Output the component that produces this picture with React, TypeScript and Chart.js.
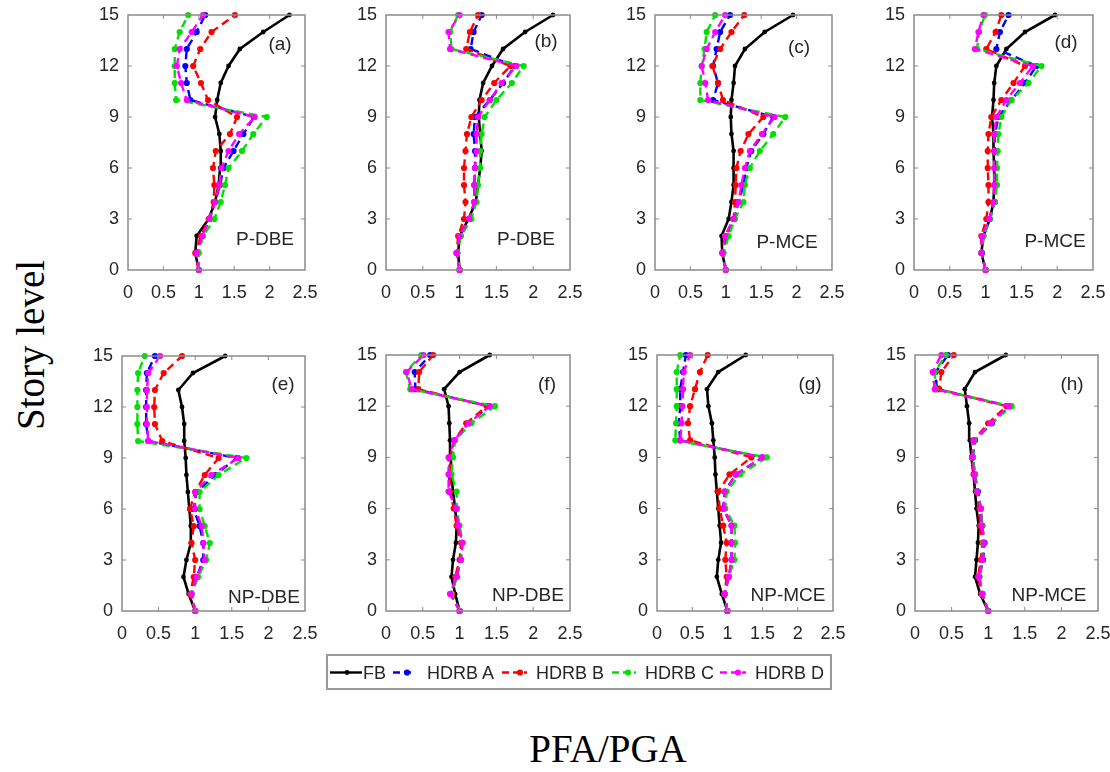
import React, { useEffect, useRef } from "react";
import { Chart, registerables } from "chart.js";
Chart.register(...registerables);

// ---------- data ----------
const storyLevels = [0, 1, 2, 3, 4, 5, 6, 7, 8, 9, 10, 11, 12, 13, 14, 15];
const xTickValues = [0, 0.5, 1, 1.5, 2, 2.5];
const yTickValues = [0, 3, 6, 9, 12, 15];
const seriesNames = ["FB", "HDRB A", "HDRB B", "HDRB C", "HDRB D"];
const panelTags = ["(a)", "(b)", "(c)", "(d)", "(e)", "(f)", "(g)", "(h)"];
const caseLabels = ["P-DBE", "P-DBE", "P-MCE", "P-MCE", "NP-DBE", "NP-DBE", "NP-MCE", "NP-MCE"];
const xAxisTitle = "PFA/PGA";
const yAxisTitle = "Story level";

// values listed from story level 0 to 15
const a_FB = [1.0, 0.95, 0.97, 1.14, 1.23, 1.28, 1.3, 1.31, 1.29, 1.23, 1.26, 1.31, 1.42, 1.58, 1.91, 2.28];
const a_A = [1.0, 0.97, 1.05, 1.15, 1.23, 1.3, 1.35, 1.49, 1.63, 1.78, 0.88, 0.83, 0.81, 0.83, 0.97, 1.09];
const a_B = [1.0, 0.95, 1.03, 1.14, 1.21, 1.22, 1.2, 1.24, 1.44, 1.54, 1.13, 1.03, 0.92, 1.02, 1.18, 1.51];
const a_C = [1.0, 1.0, 1.06, 1.22, 1.31, 1.37, 1.42, 1.61, 1.77, 1.96, 0.68, 0.66, 0.66, 0.66, 0.73, 0.85];
const a_D = [1.0, 0.97, 1.05, 1.15, 1.23, 1.29, 1.32, 1.42, 1.57, 1.79, 0.83, 0.75, 0.69, 0.73, 0.9, 1.06];

const b_FB = [1.0, 0.98, 1.0, 1.12, 1.22, 1.25, 1.28, 1.3, 1.28, 1.26, 1.27, 1.32, 1.44, 1.59, 1.89, 2.27];
const b_A = [1.0, 0.96, 1.0, 1.13, 1.2, 1.2, 1.21, 1.21, 1.19, 1.21, 1.41, 1.59, 1.75, 1.15, 1.19, 1.3];
const b_B = [1.0, 0.96, 0.98, 1.06, 1.08, 1.06, 1.06, 1.08, 1.1, 1.16, 1.3, 1.47, 1.69, 1.09, 1.14, 1.25];
const b_C = [1.0, 0.97, 1.02, 1.16, 1.23, 1.25, 1.28, 1.28, 1.3, 1.34, 1.5, 1.71, 1.87, 0.89, 0.87, 0.98];
const b_D = [1.0, 0.96, 1.0, 1.13, 1.2, 1.2, 1.21, 1.23, 1.23, 1.25, 1.41, 1.57, 1.77, 0.87, 0.85, 1.0];

const c_FB = [1.0, 0.95, 0.94, 1.04, 1.08, 1.11, 1.11, 1.11, 1.08, 1.07, 1.08, 1.11, 1.13, 1.27, 1.55, 1.95];
const c_A = [1.0, 0.96, 1.01, 1.12, 1.18, 1.25, 1.29, 1.36, 1.53, 1.67, 0.82, 0.89, 0.82, 0.87, 0.92, 1.06];
const c_B = [1.0, 0.95, 0.99, 1.11, 1.13, 1.14, 1.15, 1.21, 1.32, 1.53, 0.96, 0.89, 0.81, 0.92, 1.08, 1.26];
const c_C = [1.0, 0.97, 1.04, 1.13, 1.25, 1.27, 1.34, 1.48, 1.67, 1.84, 0.64, 0.64, 0.66, 0.7, 0.73, 0.85];
const c_D = [1.0, 0.95, 0.99, 1.11, 1.18, 1.22, 1.27, 1.34, 1.51, 1.69, 0.75, 0.71, 0.66, 0.73, 0.85, 0.99];

const d_FB = [1.0, 0.94, 0.97, 1.06, 1.11, 1.12, 1.12, 1.11, 1.11, 1.09, 1.11, 1.12, 1.15, 1.29, 1.55, 1.97];
const d_A = [1.0, 0.95, 0.97, 1.06, 1.13, 1.13, 1.13, 1.13, 1.13, 1.18, 1.36, 1.55, 1.71, 1.15, 1.2, 1.32];
const d_B = [1.0, 0.94, 0.94, 1.01, 1.04, 1.04, 1.03, 1.03, 1.04, 1.08, 1.22, 1.39, 1.55, 1.01, 1.14, 1.22];
const d_C = [1.0, 0.94, 0.97, 1.06, 1.13, 1.16, 1.16, 1.17, 1.18, 1.22, 1.36, 1.6, 1.78, 0.88, 0.91, 0.99];
const d_D = [1.0, 0.94, 0.95, 1.05, 1.11, 1.12, 1.12, 1.12, 1.12, 1.15, 1.29, 1.48, 1.66, 0.85, 0.9, 0.97];

const e_FB = [1.0, 0.91, 0.84, 0.88, 0.94, 0.94, 0.92, 0.9, 0.88, 0.87, 0.85, 0.85, 0.82, 0.77, 0.97, 1.41];
const e_A = [1.0, 0.95, 1.02, 1.11, 1.11, 1.06, 0.98, 1.02, 1.27, 1.57, 0.36, 0.33, 0.33, 0.33, 0.34, 0.45];
const e_B = [1.0, 0.93, 0.98, 1.0, 0.95, 0.98, 0.93, 1.0, 1.13, 1.32, 0.55, 0.45, 0.44, 0.45, 0.57, 0.82];
const e_C = [1.0, 0.95, 1.04, 1.15, 1.2, 1.13, 1.06, 1.06, 1.32, 1.7, 0.22, 0.21, 0.21, 0.21, 0.22, 0.31];
const e_D = [1.0, 0.95, 1.02, 1.13, 1.11, 1.09, 1.0, 1.0, 1.22, 1.59, 0.36, 0.34, 0.34, 0.34, 0.36, 0.52];

const f_FB = [1.0, 0.94, 0.89, 0.91, 0.95, 0.96, 0.94, 0.91, 0.89, 0.88, 0.87, 0.86, 0.85, 0.79, 1.0, 1.41];
const f_A = [1.0, 0.89, 0.96, 1.01, 1.03, 0.99, 0.95, 0.86, 0.86, 0.87, 0.93, 1.12, 1.4, 0.4, 0.39, 0.6];
const f_B = [1.0, 0.9, 0.94, 1.0, 1.02, 0.96, 0.92, 0.87, 0.87, 0.87, 0.93, 1.09, 1.37, 0.44, 0.45, 0.64];
const f_C = [1.0, 0.89, 0.96, 1.02, 1.04, 1.0, 0.96, 0.96, 0.89, 0.91, 0.94, 1.16, 1.48, 0.33, 0.27, 0.48];
const f_D = [1.0, 0.87, 0.96, 1.02, 1.04, 0.98, 0.96, 0.85, 0.85, 0.85, 0.93, 1.12, 1.41, 0.35, 0.28, 0.51];

const g_FB = [1.0, 0.92, 0.85, 0.87, 0.91, 0.89, 0.87, 0.85, 0.83, 0.82, 0.8, 0.78, 0.73, 0.71, 0.87, 1.26];
const g_A = [1.0, 0.96, 1.02, 1.06, 1.06, 1.06, 0.94, 0.96, 1.12, 1.5, 0.33, 0.31, 0.33, 0.33, 0.37, 0.41];
const g_B = [1.0, 0.96, 0.99, 0.97, 0.99, 0.94, 0.89, 0.87, 1.03, 1.34, 0.47, 0.44, 0.47, 0.54, 0.61, 0.72];
const g_C = [1.0, 0.96, 1.02, 1.1, 1.11, 1.1, 0.97, 0.99, 1.18, 1.56, 0.26, 0.27, 0.28, 0.28, 0.28, 0.33];
const g_D = [1.0, 0.96, 1.02, 1.06, 1.06, 1.06, 0.95, 0.96, 1.12, 1.49, 0.33, 0.35, 0.36, 0.37, 0.38, 0.47];

const h_FB = [1.0, 0.89, 0.82, 0.84, 0.86, 0.87, 0.84, 0.82, 0.8, 0.77, 0.75, 0.74, 0.71, 0.68, 0.82, 1.24];
const h_A = [1.0, 0.92, 0.88, 0.93, 0.95, 0.92, 0.9, 0.86, 0.82, 0.79, 0.82, 1.05, 1.3, 0.3, 0.28, 0.45];
const h_B = [1.0, 0.91, 0.86, 0.9, 0.92, 0.89, 0.88, 0.84, 0.8, 0.78, 0.8, 1.0, 1.25, 0.33, 0.36, 0.53];
const h_C = [1.0, 0.92, 0.88, 0.92, 0.93, 0.92, 0.9, 0.85, 0.82, 0.79, 0.81, 1.04, 1.32, 0.28, 0.27, 0.42];
const h_D = [1.0, 0.92, 0.87, 0.92, 0.94, 0.91, 0.9, 0.85, 0.81, 0.78, 0.8, 1.03, 1.28, 0.27, 0.24, 0.36];

const panelSeries = [
  [a_FB, a_A, a_B, a_C, a_D],
  [b_FB, b_A, b_B, b_C, b_D],
  [c_FB, c_A, c_B, c_C, c_D],
  [d_FB, d_A, d_B, d_C, d_D],
  [e_FB, e_A, e_B, e_C, e_D],
  [f_FB, f_A, f_B, f_C, f_D],
  [g_FB, g_A, g_B, g_C, g_D],
  [h_FB, h_A, h_B, h_C, h_D],
];

// ---------- layout & style ----------
const seriesColors = ["#000000", "#0000ff", "#ff0000", "#00e000", "#ff00ff"];
type Box = { l: number; t: number; r: number; b: number; tx: number; ty: number; cx: number; cy: number };
const panelBoxes: Box[] = [
  { l: 128, t: 15, r: 305, b: 270, tx: 280, ty: 45, cx: 265, cy: 240 },
  { l: 386, t: 15, r: 570, b: 270, tx: 546, ty: 42, cx: 526, cy: 240 },
  { l: 655, t: 15, r: 832, b: 270, tx: 799, ty: 48, cx: 787, cy: 243 },
  { l: 914, t: 15, r: 1093, b: 270, tx: 1066, ty: 43, cx: 1055, cy: 242 },
  { l: 122, t: 356, r: 305, b: 611, tx: 283, ty: 385, cx: 264, cy: 598 },
  { l: 386, t: 355, r: 570, b: 611, tx: 547, ty: 385, cx: 528, cy: 596 },
  { l: 657, t: 355, r: 833, b: 611, tx: 810, ty: 385, cx: 788, cy: 596 },
  { l: 915, t: 355, r: 1098, b: 611, tx: 1072, ty: 385, cx: 1049, cy: 596 },
];
const PAD_L = 40, PAD_R = 28, PAD_T = 22, PAD_B = 34;
const SANS = "'Liberation Sans', Arial, sans-serif";
const SERIF = "'Liberation Serif', 'Times New Roman', serif";
const TEXT = "#262626";

const framePlugin = {
  id: "panelFrame",
  afterDatasetsDraw(chart: any, _a: any, opts: any) {
    const { ctx, chartArea: ca, scales } = chart;
    ctx.save();
    ctx.strokeStyle = "#8a8a8a";
    ctx.lineWidth = 1.5;
    ctx.strokeRect(ca.left, ca.top, ca.right - ca.left, ca.bottom - ca.top);
    ctx.lineWidth = 1;
    const tl = 4;
    ctx.beginPath();
    xTickValues.forEach((v) => {
      const px = scales.x.getPixelForValue(v);
      if (px <= ca.left + 1 || px >= ca.right - 1) return;
      ctx.moveTo(px, ca.bottom); ctx.lineTo(px, ca.bottom - tl);
      ctx.moveTo(px, ca.top); ctx.lineTo(px, ca.top + tl);
    });
    yTickValues.forEach((v) => {
      const py = scales.y.getPixelForValue(v);
      if (py <= ca.top + 1 || py >= ca.bottom - 1) return;
      ctx.moveTo(ca.left, py); ctx.lineTo(ca.left + tl, py);
      ctx.moveTo(ca.right, py); ctx.lineTo(ca.right - tl, py);
    });
    ctx.stroke();
    ctx.fillStyle = TEXT;
    ctx.font = "19px " + SANS;
    ctx.textAlign = "center";
    ctx.textBaseline = "middle";
    ctx.fillText(opts.tag, ca.left + opts.tagDx, ca.top + opts.tagDy);
    ctx.fillText(opts.caseLabel, ca.left + opts.caseDx, ca.top + opts.caseDy);
    ctx.restore();
  },
};

function Panel({ idx }: { idx: number }) {
  const ref = useRef<HTMLCanvasElement>(null);
  const box = panelBoxes[idx];
  const w = box.r - box.l + PAD_L + PAD_R;
  const h = box.b - box.t + PAD_T + PAD_B;
  useEffect(() => {
    if (!ref.current) return;
    const series = panelSeries[idx];
    const datasets = series.map((vals, s) => ({
      label: seriesNames[s],
      data: storyLevels.map((lv, i) => ({ x: vals[i], y: lv })),
      borderColor: seriesColors[s],
      backgroundColor: seriesColors[s],
      borderWidth: s === 0 ? 2.6 : 2.4,
      borderDash: s === 0 ? [] : [8, 5],
      pointRadius: s === 0 ? 2.4 : 3.1,
      pointBorderWidth: 0,
      pointBackgroundColor: seriesColors[s],
      tension: 0,
      showLine: true,
      clip: false as any,
      order: 5 - s,
    }));
    const tickFont = { family: SANS, size: 18 };
    const chart = new Chart(ref.current, {
      type: "scatter",
      data: { datasets },
      plugins: [framePlugin as any],
      options: {
        animation: false,
        responsive: false,
        events: [],
        layout: { padding: { left: 0, right: PAD_R, top: PAD_T, bottom: 0 } },
        plugins: {
          legend: { display: false },
          tooltip: { enabled: false },
          panelFrame: {
            tag: panelTags[idx],
            caseLabel: caseLabels[idx],
            tagDx: box.tx - box.l,
            tagDy: box.ty - box.t,
            caseDx: box.cx - box.l,
            caseDy: box.cy - box.t,
          },
        } as any,
        scales: {
          x: {
            type: "linear",
            min: 0,
            max: 2.5,
            grid: { display: false, drawTicks: false },
            border: { display: false },
            afterBuildTicks: (s: any) => { s.ticks = xTickValues.map((v) => ({ value: v })); },
            afterFit: (s: any) => { s.height = PAD_B; },
            ticks: { font: tickFont, color: TEXT, padding: 12, maxRotation: 0, autoSkip: false, callback: (v: any) => String(v) },
          },
          y: {
            type: "linear",
            min: 0,
            max: 15,
            grid: { display: false, drawTicks: false },
            border: { display: false },
            afterBuildTicks: (s: any) => { s.ticks = yTickValues.map((v) => ({ value: v })); },
            afterFit: (s: any) => { s.width = PAD_L; },
            ticks: { font: tickFont, color: TEXT, padding: 9, autoSkip: false, callback: (v: any) => String(v) },
          },
        },
      },
    });
    return () => chart.destroy();
  }, [idx]);
  return (
    <canvas
      ref={ref}
      width={w}
      height={h}
      style={{ position: "absolute", left: box.l - PAD_L, top: box.t - PAD_T, width: w, height: h }}
    />
  );
}

type LegendItem = { x1: number; x2: number; dot: number; tx: number };
const legendItems: LegendItem[] = [
  { x1: 330, x2: 362, dot: 347, tx: 363 },
  { x1: 393, x2: 413, dot: 407, tx: 427 },
  { x1: 502, x2: 527, dot: 520, tx: 536 },
  { x1: 612, x2: 636, dot: 628, tx: 645 },
  { x1: 720, x2: 746, dot: 738, tx: 755 },
];

function Legend() {
  const cy = 672.5;
  return (
    <>
      <div
        style={{
          position: "absolute", left: 326, top: 654, width: 506, height: 36,
          boxSizing: "border-box", border: "2px solid #9a9a9a", background: "#fff",
        }}
      />
      <svg width={1110} height={772} style={{ position: "absolute", left: 0, top: 0, pointerEvents: "none" }}>
        {legendItems.map((it, i) => (
          <g key={i}>
            <line x1={it.x1} y1={cy} x2={it.x2} y2={cy} stroke={seriesColors[i]} strokeWidth={2.4}
              strokeDasharray={i === 0 ? undefined : "7 4"} />
            <circle cx={it.dot} cy={cy} r={i === 0 ? 2.4 : 3.1} fill={seriesColors[i]} />
          </g>
        ))}
      </svg>
      {legendItems.map((it, i) => (
        <div key={i} style={{
          position: "absolute", left: it.tx, top: cy - 11, height: 22, lineHeight: "22px",
          fontFamily: SANS, fontSize: 18, color: TEXT, whiteSpace: "nowrap",
        }}>{seriesNames[i]}</div>
      ))}
    </>
  );
}

export default function App() {
  return (
    <div style={{ position: "absolute", left: 0, top: 0, width: 1110, height: 772, background: "#fff", overflow: "hidden" }}>
      {panelBoxes.map((_, i) => <Panel key={i} idx={i} />)}
      <div style={{
        position: "absolute", left: 30, top: 345, transform: "translate(-50%, -50%) rotate(-90deg)",
        fontFamily: SERIF, fontSize: 39, color: "#000", whiteSpace: "nowrap", lineHeight: 1,
      }}>{yAxisTitle}</div>
      <div style={{
        position: "absolute", left: 608, top: 748, transform: "translate(-50%, -50%)",
        fontFamily: SERIF, fontSize: 39, color: "#000", whiteSpace: "nowrap", lineHeight: 1,
      }}>{xAxisTitle}</div>
      <Legend />
    </div>
  );
}
